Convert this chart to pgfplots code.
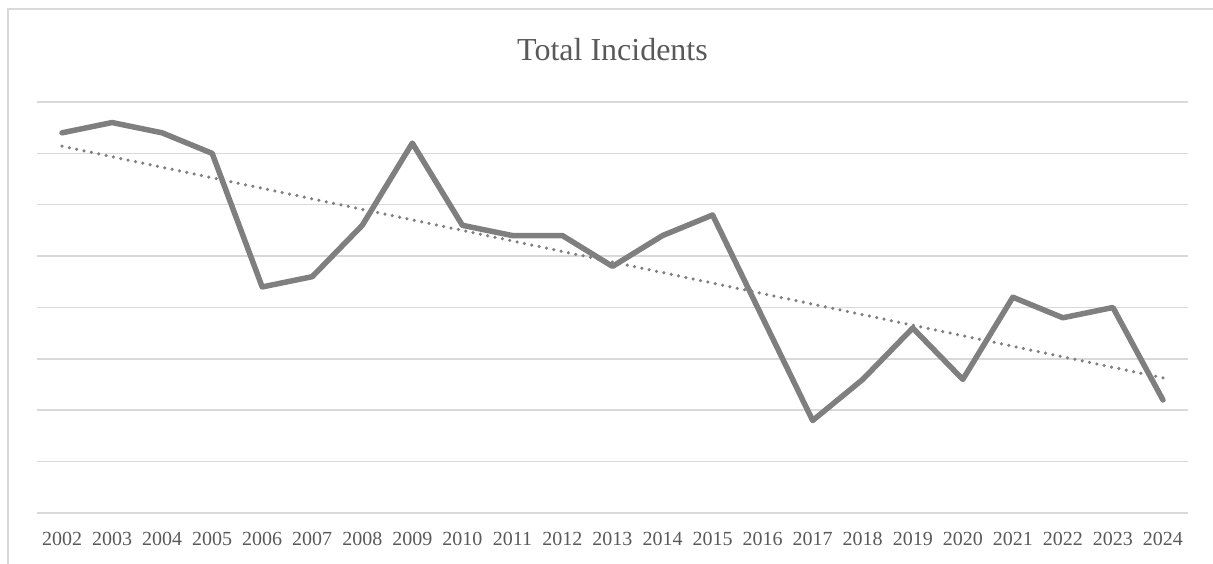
\documentclass[border=0pt]{standalone}
\usepackage{fontspec}
\setmainfont{Liberation Serif}
\usepackage{pgfplots}
\pgfplotsset{compat=1.18}
\definecolor{linegray}{HTML}{7F7F7F}
\definecolor{gridgray}{HTML}{D9D9D9}
\definecolor{textgray}{HTML}{595959}
\begin{document}
\begin{tikzpicture}[x=1pt,y=1pt]
	\useasboundingbox (0,0) rectangle (1213,564);
	% chart area border (only top and left edges visible)
	\draw[gridgray, line width=1.5pt] (8,0) -- (8,555) -- (1213,555);
	\begin{axis}[
			at={(37pt,51pt)},
			anchor=south west,
			scale only axis,
			width=1151pt,
			height=411pt,
			xmin=-0.5, xmax=22.5,
			ymin=0, ymax=80,
			axis x line*=bottom,
			axis y line*=left,
			x axis line style={gridgray, line width=1.5pt, -},
			y axis line style={draw=none},
			xtick={0,...,22},
			xticklabels={2002,2003,2004,2005,2006,2007,2008,2009,2010,2011,2012,2013,2014,2015,2016,2017,2018,2019,2020,2021,2022,2023,2024},
			ytick={10,20,30,40,50,60,70,80},
			yticklabels={},
			ymajorgrids=true,
			grid style={gridgray, line width=1.5pt},
			major tick length=0pt,
			tick label style={font=\fontsize{20}{24}\selectfont, text=textgray},
			xticklabel style={yshift=-16pt},
			title={Total Incidents},
			title style={font=\fontsize{32}{36}\selectfont, text=textgray, at={(0.5,1)}, anchor=center, yshift=46pt},
			clip=false,
		]
		\addplot[linegray, line width=5.5pt, line join=round, line cap=round] coordinates {
			(0,74)(1,76)(2,74)(3,70)(4,44)(5,46)(6,56)(7,72)(8,56)(9,54)(10,54)(11,48)
			(12,54)(13,58)(14,38)(15,18)(16,26)(17,36)(18,26)(19,42)(20,38)(21,40)(22,22)
		};
		% linear trend line
		\addplot[linegray, line width=3.5pt, line cap=round, dash pattern=on 0pt off 7.5pt] coordinates {
			(0,71.4)(22,26.3)
		};
	\end{axis}
\end{tikzpicture}
\end{document}
